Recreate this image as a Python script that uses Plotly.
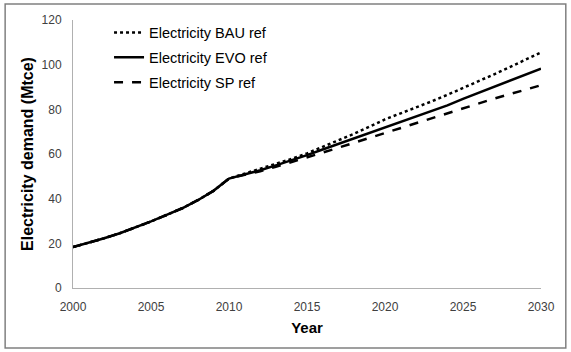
import plotly.graph_objects as go

years = list(range(2000, 2031))

hist = [18.3, 20.2, 22.3, 24.5, 27.0, 29.8, 32.7, 35.7, 39.3, 43.5, 49.0]

bau_proj = [51.2, 53.3, 55.5, 57.8, 60.3, 63.1, 66.0, 69.0, 72.2, 75.5,
            78.2, 80.8, 83.6, 86.5, 89.5, 92.6, 95.7, 98.9, 102.2, 105.5]
evo_proj = [50.8, 52.7, 54.9, 57.1, 59.5, 62.0, 64.5, 67.0, 69.5, 72.0,
            74.3, 76.8, 79.3, 81.8, 84.7, 87.4, 90.2, 92.8, 95.5, 98.2]
sp_proj = [50.5, 52.3, 54.3, 56.3, 58.4, 60.6, 62.8, 65.0, 67.3, 69.6,
           71.9, 74.1, 76.3, 78.5, 80.7, 82.8, 84.8, 86.8, 88.8, 90.8]

bau = hist + bau_proj
evo = hist + evo_proj
sp = hist + sp_proj

series_names = ["Electricity BAU ref", "Electricity EVO ref", "Electricity SP ref"]
series_values = [bau, evo, sp]
dashes = ["dot", "solid", "dash"]

x_ticks = [2000, 2005, 2010, 2015, 2020, 2025, 2030]
y_ticks = [0, 20, 40, 60, 80, 100, 120]

fig = go.Figure()
for i, (name, vals, d) in enumerate(zip(series_names, series_values, dashes)):
    fig.add_trace(go.Scatter(
        x=years, y=vals, mode="lines", name=name,
        legendgroup="g%d" % i,
        line=dict(color="black", width=2.5, dash=d),
    ))

fig.update_layout(
    width=571, height=352,
    margin=dict(l=73, r=30, t=20, b=64, autoexpand=False),
    paper_bgcolor="white", plot_bgcolor="white",
    font=dict(family="Liberation Sans, Arial, sans-serif", color="#404040"),
    showlegend=True,
    legend=dict(
        x=0.077, y=1.013, xanchor="left", yanchor="top",
        font=dict(size=14.5, color="black", family="Liberation Sans, Arial, sans-serif"),
        bgcolor="rgba(0,0,0,0)", tracegroupgap=3, itemwidth=30,
    ),
    xaxis=dict(
        range=[2000, 2030], tickvals=x_ticks, ticktext=[str(v) for v in x_ticks],
        showline=True, linecolor="#b0b0b0", linewidth=1, showgrid=False,
        zeroline=False, ticks="", tickfont=dict(size=12, color="#404040"),
        ticklabelstandoff=8, automargin=False,
        title=dict(text="<b>Year</b>", font=dict(size=15, color="black"), standoff=9),
    ),
    yaxis=dict(
        range=[0, 120], tickvals=y_ticks,
        showline=True, linecolor="#b0b0b0", linewidth=1, showgrid=False,
        zeroline=False, ticks="", tickfont=dict(size=12, color="#404040"),
        ticklabelstandoff=8, automargin=False,
        title=dict(text="<b>Electricity demand (Mtce)</b>", font=dict(size=16, color="black"), standoff=3),
    ),
    shapes=[dict(
        type="rect", xref="paper", yref="paper",
        x0=-0.145, x1=1.053, y0=-0.224, y1=1.06,
        line=dict(color="#808080", width=1.5), fillcolor="rgba(0,0,0,0)", layer="below",
    )],
)

fig.write_html("out.html", config={"displayModeBar": False},
               post_script="document.body.style.margin='0';")
